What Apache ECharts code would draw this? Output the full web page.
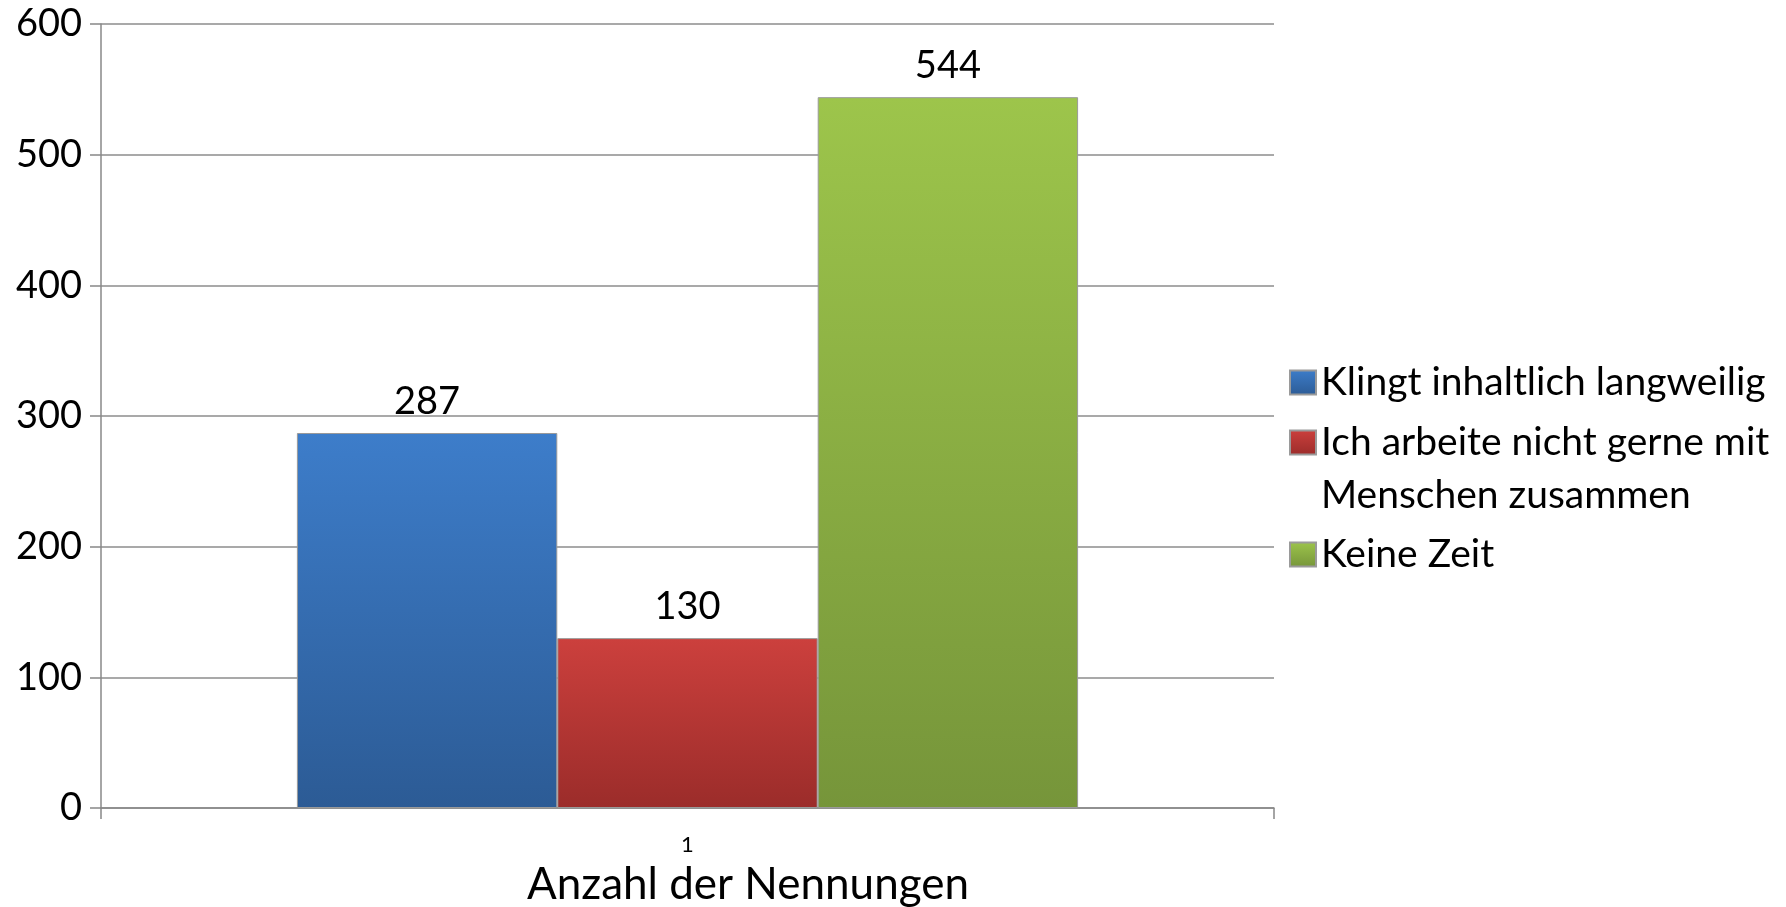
<!DOCTYPE html>
<html>
<head>
<meta charset="utf-8">
<script src="https://cdn.jsdelivr.net/npm/echarts@6/dist/echarts.min.js"></script>
<style>
  html, body { margin: 0; padding: 0; background: #fff; }
  #chart { width: 1786px; height: 907px; }
</style>
</head>
<body>
<div id="chart"></div>
<script>
// data
const categories = ['1'];
const seriesNames = ['Klingt inhaltlich langweilig', 'Ich arbeite nicht gerne mit\nMenschen zusammen', 'Keine Zeit'];
const langweiligValues = [287];
const menschenValues = [130];
const keineZeitValues = [544];
const yMin = 0, yMax = 600, yStep = 100;

const font = 'Lato';

function grad(top, bottom) {
  return new echarts.graphic.LinearGradient(0, 0, 0, 1, [
    { offset: 0, color: top },
    { offset: 1, color: bottom }
  ]);
}

function barSeries(name, values, top, bottom) {
  return {
    name: name,
    type: 'bar',
    data: values,
    barGap: '0%',
    barCategoryGap: '33.4%',
    itemStyle: { color: grad(top, bottom), borderColor: '#9a9a9a', borderWidth: 1 },
    label: {
      show: true, position: 'top', distance: 12,
      color: '#000', fontFamily: font, fontSize: 38
    }
  };
}

// one legend per entry so the rows sit where they are in the picture
function legendAt(name, top, lineHeight, formatter) {
  return {
    data: [name],
    left: 1289, top: top,
    orient: 'vertical',
    padding: 0,
    icon: 'rect',
    itemWidth: 26, itemHeight: 24,
    selectedMode: false,
    formatter: formatter,
    textStyle: { color: '#000', fontFamily: font, fontSize: 39, lineHeight: lineHeight }
  };
}

const chart = echarts.init(document.getElementById('chart'));
chart.setOption({
  animation: false,
  title: {
    text: 'Anzahl der Nennungen',
    left: 527, top: 863, padding: 0,
    textStyle: { color: '#000', fontFamily: font, fontSize: 44, fontWeight: 'normal' }
  },
  grid: { left: 101, right: 512, top: 24, bottom: 99 },
  legend: [
    legendAt(seriesNames[0], 355, 55),
    // leading empty line keeps the marker level with the first text line
    legendAt(seriesNames[1], 363, 53, name => '\n' + name),
    legendAt(seriesNames[2], 527, 55)
  ],
  xAxis: {
    type: 'category',
    data: categories,
    axisLine: { lineStyle: { color: '#888', width: 1.5 } },
    axisTick: { show: true, length: 11, lineStyle: { color: '#888', width: 1.5 } },
    axisLabel: { color: '#000', fontFamily: font, fontSize: 22, margin: 26 }
  },
  yAxis: {
    type: 'value',
    min: yMin, max: yMax, interval: yStep,
    axisLine: { show: true, lineStyle: { color: '#888', width: 1.5 } },
    axisTick: { show: true, length: 11, lineStyle: { color: '#888', width: 1.5 } },
    axisLabel: { color: '#000', fontFamily: font, fontSize: 38, margin: 19 },
    splitLine: { lineStyle: { color: '#8c8c8c', width: 1.5 } }
  },
  series: [
    barSeries(seriesNames[0], langweiligValues, '#3d7dca', '#2c5b95'),
    barSeries(seriesNames[1], menschenValues, '#cc403d', '#9b2c2a'),
    barSeries(seriesNames[2], keineZeitValues, '#9dc54b', '#76953a')
  ]
});
</script>
</body>
</html>
